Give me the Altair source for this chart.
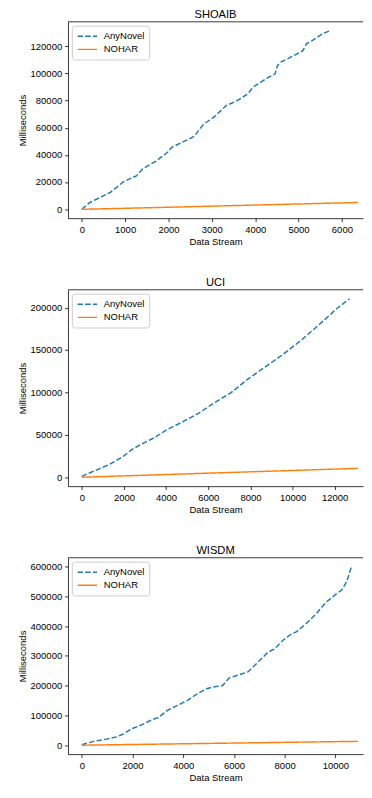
import altair as alt
import pandas as pd

SERIES = ["AnyNovel", "NOHAR"]
COLORS = ["#1f77b4", "#ff7f0e"]

# SHOAIB
shoaib_any_x = [0, 185, 444, 667, 963, 1259, 1407, 1704, 2000, 2074, 2370, 2593, 2667, 2815, 3037, 3333,
                3555, 3810, 3958, 4033, 4293, 4457, 4516, 4591, 4888, 5097, 5186, 5298, 5558, 5722]
shoaib_any_y = [0, 5000, 9070, 12640, 20280, 24570, 29820, 35310, 42470, 45570, 50100, 53680, 56780, 62740,
                67510, 76340, 79440, 84500, 90000, 91600, 96900, 99500, 105900, 108300, 113100, 116600,
                121900, 123800, 129300, 131400]
shoaib_noh_x = [0, 1000, 2000, 3000, 4000, 5000, 6370]
shoaib_noh_y = [0, 700, 1500, 2300, 3100, 3900, 5000]

# UCI
uci_any_x = [0, 711, 1317, 1922, 2376, 2831, 3436, 4041, 4798, 5555, 6312, 7069, 7826, 8583, 9491,
             10399, 11307, 12064, 12700]
uci_any_y = [1100, 8700, 15150, 23860, 32580, 39000, 46600, 56060, 65530, 75760, 88260, 99620, 114770,
             128030, 143940, 161360, 181060, 198110, 210600]
uci_noh_x = [0, 2000, 4000, 6000, 8000, 10000, 13100]
uci_noh_y = [0, 1600, 3200, 4800, 6400, 8000, 10500]

# WISDM
wisdm_any_x = [0, 470, 978, 1360, 1614, 1995, 2376, 2757, 3011, 3393, 3774, 4155, 4536, 4917, 5172, 5553,
               5807, 6188, 6569, 6950, 7332, 7586, 7967, 8221, 8475, 8856, 9238, 9619, 10000, 10254,
               10445, 10635]
wisdm_any_y = [2000, 12900, 20500, 28000, 36700, 56100, 69000, 85200, 92800, 117600, 133800, 150000,
               171500, 189900, 195300, 200600, 225500, 236200, 247000, 279400, 311800, 322500, 354900,
               371100, 381900, 408800, 441200, 479000, 505900, 522100, 549100, 599800]
wisdm_noh_x = [0, 2000, 4000, 6000, 8000, 10890]
wisdm_noh_y = [0, 2400, 4800, 7200, 9600, 13000]

TITLES = ["SHOAIB", "UCI", "WISDM"]
X_TICKS = [list(range(0, 7000, 1000)), list(range(0, 14000, 2000)), list(range(0, 12000, 2000))]
Y_TICKS = [list(range(0, 140000, 20000)), list(range(0, 250000, 50000)), list(range(0, 700000, 100000))]

FONT = "Liberation Sans"
FULL_W = 314   # full matplotlib axes width
W = 305        # visible part (cropped on the right)
H = 203


def panel(title, ax, ay, nx, ny, xticks, yticks):
    df = pd.concat([
        pd.DataFrame({"x": ax, "y": ay, "s": SERIES[0], "o": list(range(len(ax)))}),
        pd.DataFrame({"x": nx, "y": ny, "s": SERIES[1], "o": list(range(len(nx)))}),
    ])
    xmin, xmax = min(ax + nx), max(ax + nx)
    ymin, ymax = min(ay + ny), max(ay + ny)
    xs, ys = xmax - xmin, ymax - ymin
    xlo, xhi = xmin - 0.05 * xs, xmax + 0.05 * xs
    xright = xlo + (xhi - xlo) * W / FULL_W
    ylo, yhi = ymin - 0.05 * ys, ymax + 0.05 * ys

    xscale = alt.Scale(domain=[xlo, xright], nice=False, zero=False)
    lines = alt.Chart(df).mark_line(clip=True, strokeWidth=1.5).encode(
        x=alt.X("x:Q", scale=xscale,
                axis=alt.Axis(values=xticks, format="d", title="Data Stream")),
        y=alt.Y("y:Q", scale=alt.Scale(domain=[ylo, yhi], nice=False, zero=False),
                axis=alt.Axis(values=yticks, format="d", title="Milliseconds")),
        color=alt.Color("s:N", scale=alt.Scale(domain=SERIES, range=COLORS),
                        legend=alt.Legend(title=None, orient="top-left")),
        strokeDash=alt.StrokeDash("s:N", scale=alt.Scale(domain=SERIES, range=[[5.5, 2.4], [1, 0]]),
                                  legend=alt.Legend(title=None, orient="top-left")),
        order="o:Q",
    )
    # top spine of the frame
    top = alt.Chart().mark_rule(color="black", strokeWidth=0.8).encode(
        x=alt.value(0), x2=alt.value(W), y=alt.value(0),
    )
    return alt.layer(lines, top).properties(
        width=W, height=H, title=alt.TitleParams(title, dy=0)
    )


charts = [
    panel(TITLES[0], shoaib_any_x, shoaib_any_y, shoaib_noh_x, shoaib_noh_y, X_TICKS[0], Y_TICKS[0]),
    panel(TITLES[1], uci_any_x, uci_any_y, uci_noh_x, uci_noh_y, X_TICKS[1], Y_TICKS[1]),
    panel(TITLES[2], wisdm_any_x, wisdm_any_y, wisdm_noh_x, wisdm_noh_y, X_TICKS[2], Y_TICKS[2]),
]

chart = alt.vconcat(*charts, spacing=31).resolve_scale(
    color="independent", strokeDash="independent"
).resolve_legend(color="independent", strokeDash="independent").properties(
    padding={"left": 9, "top": -12, "right": 0, "bottom": 0},
).configure(
    font=FONT,
).configure_view(stroke=None).configure_axis(
    grid=False, labelFont=FONT, titleFont=FONT, labelFontSize=9.8, titleFontSize=9.8,
    labelColor="black", titleColor="black", tickColor="black", tickSize=3.5, tickWidth=0.8,
    labelPadding=3, titlePadding=3, domainColor="black", domainWidth=0.8, titleFontWeight="normal",
).configure_title(
    font=FONT, fontSize=11.5, fontWeight="normal", color="black", anchor="middle", offset=1,
).configure_legend(
    offset=4, padding=5, fillColor="rgba(255,255,255,0.8)", strokeColor="#cccccc", cornerRadius=3,
    labelFont=FONT, labelFontSize=9.8, labelColor="black", labelOffset=11, rowPadding=2.5,
    symbolSize=100, symbolStrokeWidth=1.5, symbolType="M-2,0H2", symbolOffset=5,
)

chart.save("out.html", embed_options={"renderer": "svg", "actions": False})
